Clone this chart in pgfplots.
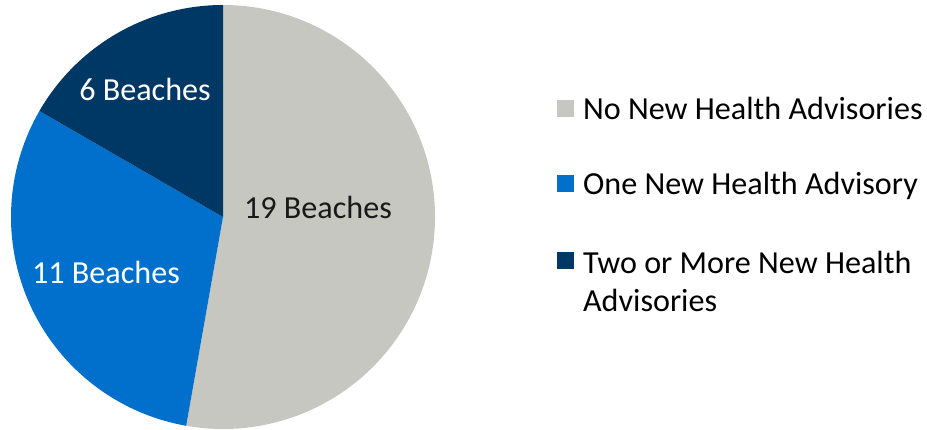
\documentclass[border=0pt]{standalone}
\usepackage{pgfplots}
\usepackage{pgfplotstable}
\pgfplotsset{compat=1.18}
\usepackage{fontspec}
\setmainfont{Carlito}
\definecolor{cgray}{RGB}{199,199,193}
\definecolor{cblue}{RGB}{0,112,204}
\definecolor{cnavy}{RGB}{0,56,101}
\pgfplotstableread{
label value
No 19
One 11
Two 6
}\piedata
\begin{document}
\begin{tikzpicture}
\pgfplotstablegetelem{0}{value}\of\piedata \let\va\pgfplotsretval
\pgfplotstablegetelem{1}{value}\of\piedata \let\vb\pgfplotsretval
\pgfplotstablegetelem{2}{value}\of\piedata \let\vc\pgfplotsretval
\pgfmathsetmacro\tot{\va+\vb+\vc}
\pgfmathsetmacro\aA{90}
\pgfmathsetmacro\aB{90-360*\va/\tot}
\pgfmathsetmacro\aC{\aB-360*\vb/\tot}
\pgfmathsetmacro\aD{\aC-360*\vc/\tot}
\begin{axis}[
  scale only axis, width=695.25pt, height=321.75pt,
  xmin=0, xmax=927, ymin=0, ymax=429,
  hide axis, clip=false,
  legend cell align=left,
  legend style={draw=none, fill=none, at={(axis cs:553,337)}, anchor=north west,
    font=\fontsize{24.1}{28}\selectfont, row sep=34pt, column sep=5pt,
    nodes={inner sep=2pt}},
  legend image code/.code={\fill[#1] (0pt,-5pt) rectangle (12pt,7pt);},
]
\addlegendimage{cgray}\addlegendentry{No New Health Advisories}
\addlegendimage{cblue}\addlegendentry{One New Health Advisory}
\addlegendimage{cnavy}\addlegendentry{\begin{tabular}[t]{@{}l@{}}Two or More New Health\\Advisories\end{tabular}}
\fill[cgray] (axis cs:223,212) -- ++(\aA:159pt) arc[start angle=\aA, end angle=\aB, radius=159pt] -- cycle;
\fill[cblue] (axis cs:223,212) -- ++(\aB:159pt) arc[start angle=\aB, end angle=\aC, radius=159pt] -- cycle;
\fill[cnavy] (axis cs:223,212) -- ++(\aC:159pt) arc[start angle=\aC, end angle=\aD, radius=159pt] -- cycle;
\node[font=\fontsize{24.1}{28}\selectfont, text=white] at (axis cs:145,340) {6 Beaches};
\node[font=\fontsize{24.1}{28}\selectfont, text=black!90] at (axis cs:318,222) {19 Beaches};
\node[font=\fontsize{24.1}{28}\selectfont, text=white] at (axis cs:106,157) {11 Beaches};
\end{axis}
\pgfresetboundingbox
\path (current axis.south west) rectangle (current axis.north east);
\end{tikzpicture}
\end{document}
